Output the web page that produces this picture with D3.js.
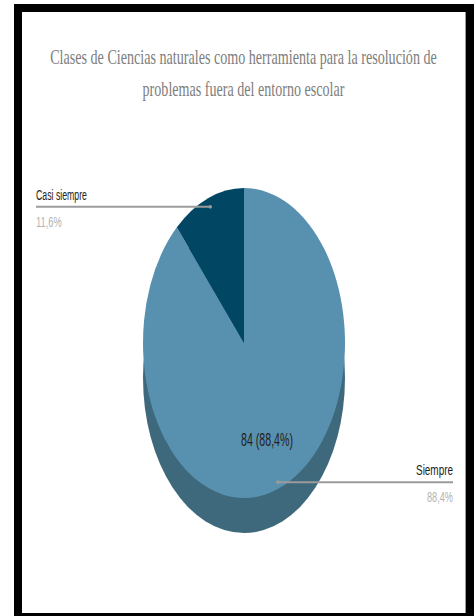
<!DOCTYPE html>
<html>
<head>
<meta charset="utf-8">
<script src="https://cdn.jsdelivr.net/npm/d3@7"></script>
<style>
  html, body { margin: 0; padding: 0; background: #fff; }
  svg { display: block; }
</style>
</head>
<body>
<script>
// Survey answers
const categories = ["Siempre", "Casi siempre"];
const values = [84, 11];
const percentLabels = ["88,4%", "11,6%"];
const sliceLabel = "84 (88,4%)";
const titleLines = [
  "Clases de Ciencias naturales como herramienta para la resolución de",
  "problemas fuera del entorno escolar"
];

const W = 476, H = 616;
const svg = d3.select("body").append("svg").attr("width", W).attr("height", H);

svg.append("rect").attr("width", W).attr("height", H).attr("fill", "#fff");

// Outer black frame
svg.append("rect")
  .attr("x", 18).attr("y", 8).attr("width", 452).attr("height", 609)
  .attr("fill", "none").attr("stroke", "#000").attr("stroke-width", 8);
svg.append("line")
  .attr("x1", 465.5).attr("x2", 465.5).attr("y1", 12).attr("y2", 613)
  .attr("stroke", "#9a9a9a").attr("stroke-width", 1);

// Draws a horizontally condensed text: placed at (x, y), squeezed to the given width
function condensedText(x, y, str, width, anchor, attrs) {
  const g = svg.append("g").attr("transform", `translate(${x},${y})`);
  const t = g.append("text").attr("x", 0).attr("y", 0).attr("text-anchor", anchor).text(str);
  Object.entries(attrs).forEach(([k, v]) => t.attr(k, v));
  const natural = t.node().getComputedTextLength();
  g.attr("transform", `translate(${x},${y}) scale(${width / natural},1)`);
  return t;
}

// Title
const titleWidths = [387, 202];
titleLines.forEach((line, i) => {
  condensedText(243.5, 64 + i * 32, line, titleWidths[i], "middle", {
    "font-family": "Liberation Serif, DejaVu Serif, serif",
    "font-size": 21,
    "fill": "#7d7d7d"
  });
});

// Pie geometry: circular arc drawn with radius R, squashed into an ellipse
const cx = 244, cy = 343, R = 101, ry = 155, depth = 35;
const sy = ry / R;
const colors = d3.scaleOrdinal().domain(categories).range(["#5891af", "#014662"]);
const sideColor = "#3e687b";

const pie = d3.pie().sort(null).value(d => d.value);
const data = categories.map((c, i) => ({ name: c, value: values[i], pct: percentLabels[i] }));
const arcs = pie(data);
const arc = d3.arc().innerRadius(0).outerRadius(R);

// Side (depth) of the pie
svg.append("g")
  .attr("transform", `translate(${cx},${cy + depth}) scale(1,${sy})`)
  .append("path")
  .attr("d", d3.arc().innerRadius(0).outerRadius(R).startAngle(0).endAngle(2 * Math.PI)())
  .attr("fill", sideColor);

const pieTop = svg.append("g").attr("transform", `translate(${cx},${cy}) scale(1,${sy})`);
pieTop.selectAll("path").data(arcs).join("path")
  .attr("d", arc)
  .attr("fill", d => colors(d.data.name));

// Leader lines and labels
function anchorPoint(d, f) {
  const a = (d.startAngle + d.endAngle) / 2;
  return [cx + Math.sin(a) * R * f, cy - Math.cos(a) * ry * f];
}
const lineColor = "#9b9b9b";
const labelFont = "Liberation Sans, Arial, sans-serif";

arcs.forEach((d) => {
  const [px, py0] = anchorPoint(d, 0.94);
  const leftSide = px < cx;
  const py = leftSide ? py0 : py0 + 3;
  const endX = leftSide ? 36 : 453;
  svg.append("line")
    .attr("x1", endX).attr("x2", px).attr("y1", py).attr("y2", py)
    .attr("stroke", lineColor).attr("stroke-width", 2);
  svg.append("circle").attr("cx", px).attr("cy", py).attr("r", 1.8).attr("fill", lineColor);
  const anchor = leftSide ? "start" : "end";
  condensedText(endX, py - 7, d.data.name, leftSide ? 51 : 37, anchor, {
    "font-family": labelFont, "font-size": 15, "fill": "#222"
  });
  condensedText(endX, py + 20, d.data.pct, 26, anchor, {
    "font-family": labelFont, "font-size": 14, "fill": "#b3b3b3"
  });
});

// Value label inside the large slice
condensedText(267, 446, sliceLabel, 52, "middle", {
  "font-family": labelFont, "font-size": 18, "fill": "#222"
});
</script>
</body>
</html>
